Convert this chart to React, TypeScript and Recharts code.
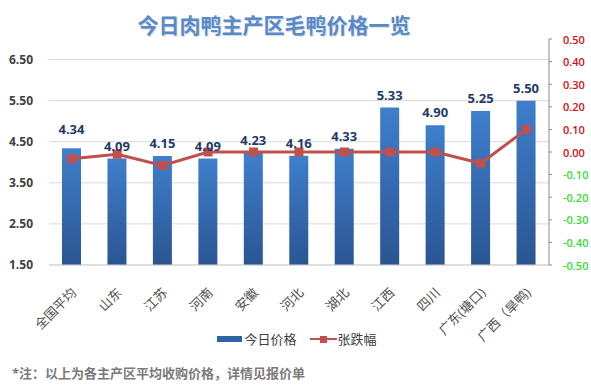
import { ComposedChart, Bar, Line, XAxis, YAxis, CartesianGrid, Legend, LabelList } from "recharts"

const regions = ["全国平均", "山东", "江苏", "河南", "安徽", "河北", "湖北", "江西", "四川", "广东(塘口)", "广西（旱鸭)"]
const prices = [4.34, 4.09, 4.15, 4.09, 4.23, 4.16, 4.33, 5.33, 4.9, 5.25, 5.5]
const changes = [-0.03, -0.01, -0.06, 0, 0, 0, 0, 0, 0, -0.05, 0.1]
const priceTicks = [1.5, 2.5, 3.5, 4.5, 5.5, 6.5]
const changeTicks = [0.5, 0.4, 0.3, 0.2, 0.1, 0, -0.1, -0.2, -0.3, -0.4, -0.5]

const data = regions.map((name, i) => ({ name, price: prices[i], change: changes[i] }))

const cjk = '"Open Sans", "Noto Sans CJK SC", sans-serif'

function CategoryTick({ x, y, payload }: any) {
  const ax = x + 2
  const ay = y + 17
  return (
    <text x={ax} y={ay} transform={`rotate(-45, ${ax}, ${ay})`} textAnchor="end" dominantBaseline="central"
      fontSize={13} fill="#505050" fontFamily={cjk}>
      {payload.value}
    </text>
  )
}

function ChangeTick({ x, y, payload }: any) {
  const v = payload.value
  return (
    <text x={x + 9} y={y} dominantBaseline="central" fontSize={11} fontWeight={600}
      fill={v < 0 ? "#33dd33" : "#d01010"} fontFamily={cjk}>
      {v.toFixed(2)}
    </text>
  )
}

function SquareDot({ cx, cy }: any) {
  if (cx == null || cy == null) return null
  return <rect x={cx - 4.5} y={cy - 4.5} width={9} height={9} fill="#c0504d" />
}

// the first label sits a bit higher in the original, clear of the line
function PriceLabel({ x, y, width, value, index }: any) {
  const lift = index === 0 ? 14 : 8
  return (
    <text x={x + width / 2} y={y - lift} textAnchor="middle" fontSize={13} fontWeight={700} fill="#1f3b66" fontFamily={cjk}>
      {Number(value).toFixed(2)}
    </text>
  )
}

function LegendBox() {
  return (
    <div style={{ display: "flex", justifyContent: "center", alignItems: "center", fontSize: 13, color: "#404040", fontFamily: cjk }}>
      <svg width={26} height={8} style={{ marginRight: 1 }}><rect x={0} y={1} width={25} height={6} fill="#2f63a8" /></svg>
      <span style={{ marginRight: 13 }}>今日价格</span>
      <svg width={27} height={10} style={{ marginRight: 1 }}>
        <line x1={0} y1={5} x2={27} y2={5} stroke="#c0504d" strokeWidth={2} />
        <rect x={10} y={2} width={7} height={7} fill="#c0504d" />
      </svg>
      <span>张跌幅</span>
    </div>
  )
}

export default function App() {
  return (
    <div style={{ position: "absolute", left: 0, top: 0, width: 591, height: 391, background: "#fff", fontFamily: cjk }}>
      <div style={{ position: "absolute", left: 0, top: 11, width: 548, textAlign: "center", fontSize: 21, fontWeight: 700, color: "#5a8ac6", fontFamily: cjk, textShadow: "1px 1px 1px #c9d6e8", lineHeight: "28px" }}>
        今日肉鸭主产区毛鸭价格一览
      </div>
      <ComposedChart width={591} height={391} data={data} margin={{ top: 39, right: 0, left: 0, bottom: 0 }}>
        <defs>
          <linearGradient id="barFill" x1="0" y1="0" x2="0" y2="1">
            <stop offset="0%" stopColor="#3f7fcc" />
            <stop offset="100%" stopColor="#2a5592" />
          </linearGradient>
        </defs>
        <CartesianGrid yAxisId="left" vertical={false} stroke="#d9d9d9" horizontalValues={priceTicks} />
        <XAxis dataKey="name" interval={0} height={126} tick={<CategoryTick />} tickLine={false} axisLine={{ stroke: "#d0d0d0" }} />
        <YAxis yAxisId="left" domain={[1.5, 7]} ticks={priceTicks} width={49} axisLine={false} tickLine={false}
          tickFormatter={(v: number) => v.toFixed(2)} tick={{ fontSize: 12, fontWeight: 700, fill: "#404040", fontFamily: cjk }} tickMargin={10} />
        <YAxis yAxisId="right" orientation="right" domain={[-0.5, 0.5]} ticks={changeTicks} interval={0} width={42}
          axisLine={{ stroke: "#8c8c8c" }} tickLine={{ stroke: "#8c8c8c" }} tickSize={3} tick={<ChangeTick />} />
        <Bar yAxisId="left" dataKey="price" name="今日价格" fill="url(#barFill)" barSize={19} isAnimationActive={false}>
          <LabelList dataKey="price" content={<PriceLabel />} />
        </Bar>
        <Line yAxisId="right" dataKey="change" name="张跌幅" stroke="#c0504d" strokeWidth={3} dot={<SquareDot />}
          activeDot={false} isAnimationActive={false} />
        <Legend verticalAlign="middle" align="center" content={<LegendBox />}
          wrapperStyle={{ top: 329, left: 0, width: 594 }} />
      </ComposedChart>
      <div style={{ position: "absolute", left: 12, top: 364, fontSize: 13, fontWeight: 700, color: "#7a7a7a", fontFamily: cjk, lineHeight: "18px" }}>
        *注：以上为各主产区平均收购价格，详情见报价单
      </div>
    </div>
  )
}
